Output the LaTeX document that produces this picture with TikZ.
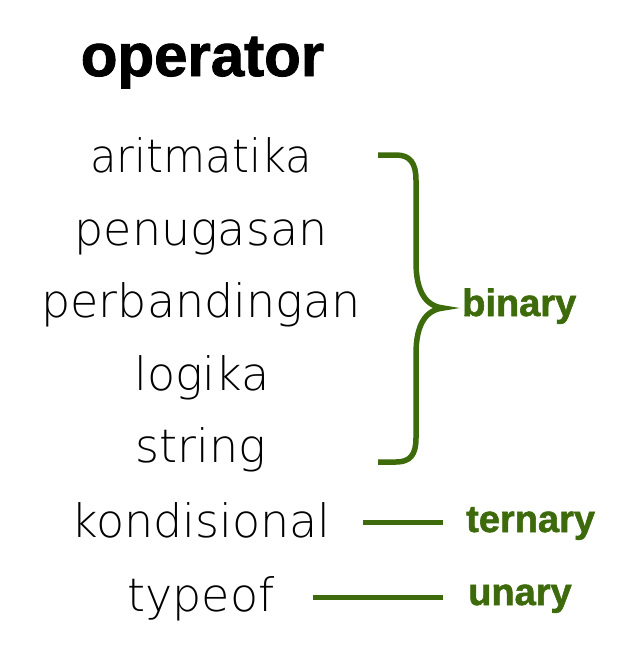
\documentclass[tikz,border=0pt]{standalone}
\usepackage{fontspec}
\setmainfont{Liberation Sans}
\newfontfamily\thinfont{DejaVuSans-ExtraLight.ttf}
\newfontfamily\boldfont{Liberation Sans}[UprightFont={* Bold},FakeBold=1.5]
\definecolor{brgreen}{HTML}{3D6A0B}
\begin{document}
\begin{tikzpicture}[x=1pt,y=-1pt,
  title/.style={inner sep=0pt,anchor=base,font=\boldfont\fontsize{60}{60}\selectfont},
  item/.style={inner sep=0pt,anchor=base,font=\thinfont\fontsize{46}{46}\selectfont,text=black},
  kind/.style={inner sep=0pt,anchor=base west,font=\boldfont\fontsize{38}{38}\selectfont,text=brgreen},
  conn/.style={draw=brgreen,line width=5pt},
  bracestroke/.style={draw=brgreen,line width=5.5pt,line join=miter,miter limit=20}]
\useasboundingbox (0,0) rectangle (635,665);
\fill[white] (0,0) rectangle (635,665);
\node[title] (op) at (202.5,76) {operator};
\node[item] (ar) at (201,172) {\scalebox{0.94}[1]{aritmatika}};
\node[item] (pe) at (201,245) {penugasan};
\node[item] (pb) at (201,317) {perbandingan};
\node[item] (lo) at (202,390) {logika};
\node[item] (st) at (201,462) {string};
\node[item] (ko) at (201,537) {kondisional};
\node[item] (ty) at (201,611) {typeof};
\node[kind] (bi) at (462,316) {binary};
\node[kind] (te) at (466,532) {ternary};
\node[kind] (un) at (468,605) {unary};
\coordinate (bt) at (378,155);
\coordinate (bb) at (378,462);
\coordinate (tip) at (443,308);
\draw[bracestroke] (bt) -- (396,155) .. controls (410,155) and (416,163) .. (416,180)
  -- (416,262) .. controls (416,292) and (426,306) .. (tip)
  .. controls (426,310) and (416,324) .. (416,354)
  -- (416,438) .. controls (416,455) and (410,462) .. (396,462) -- (bb);
\coordinate (k1) at (363,522);
\coordinate (k2) at (443,522);
\coordinate (t1) at (313,597);
\coordinate (t2) at (443,597);
\draw[conn] (k1) -- (k2);
\draw[conn] (t1) -- (t2);
\end{tikzpicture}
\end{document}
